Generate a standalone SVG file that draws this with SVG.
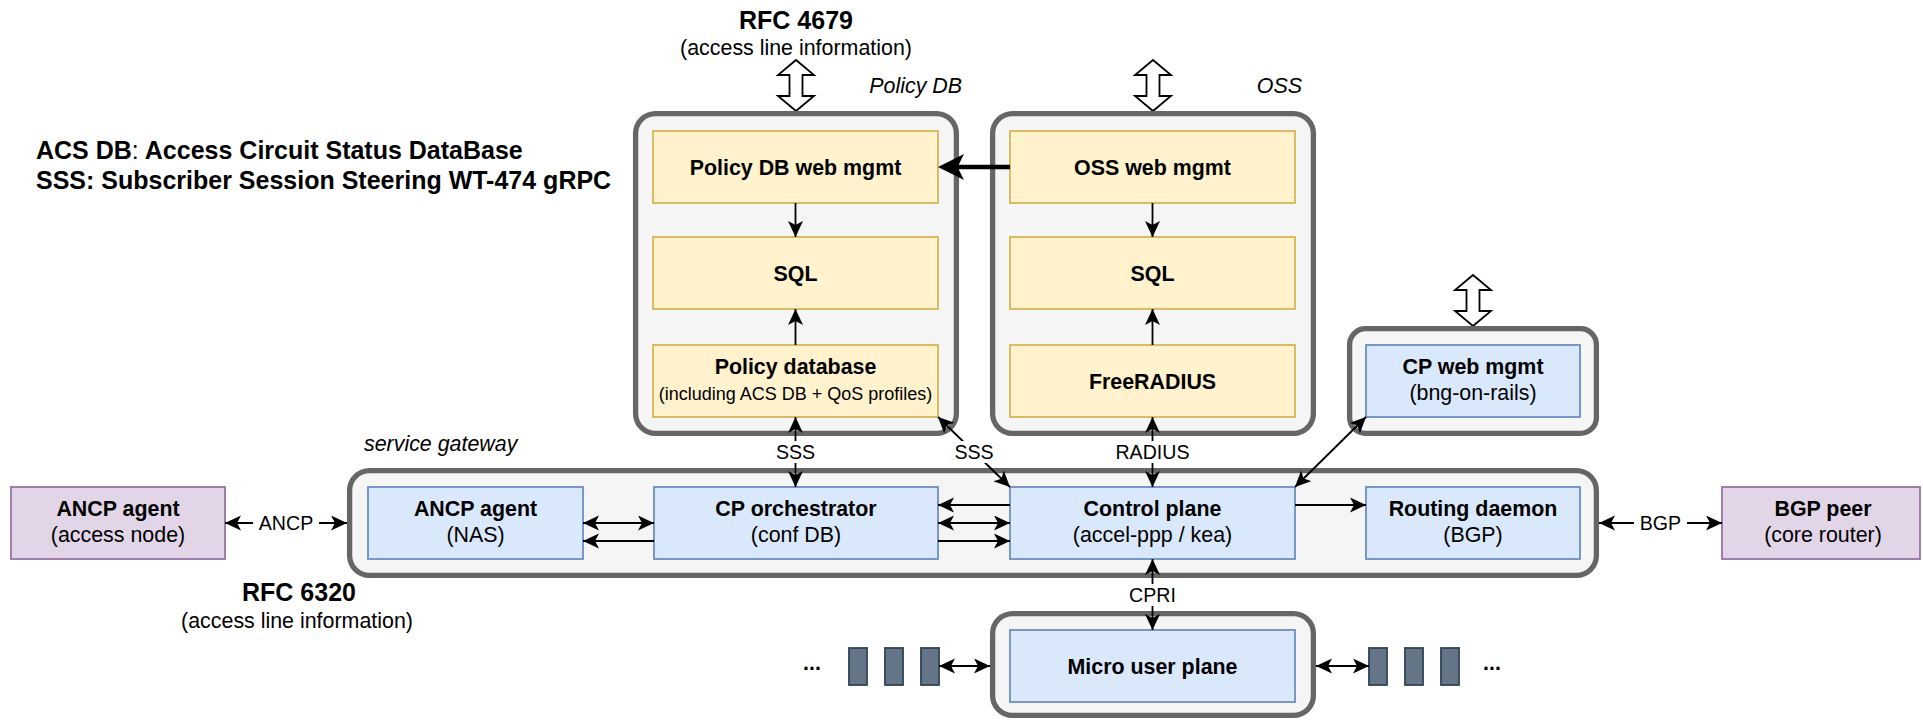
<svg xmlns="http://www.w3.org/2000/svg" width="1923" height="721" viewBox="0 0 1923 721">
<style>
text{font-family:"Liberation Sans",Arial,Helvetica,sans-serif;fill:#000}
.t{font-size:21.4px}
.m{text-anchor:middle}
.en{text-anchor:end}
.st{text-anchor:start}
.sm{font-size:18px}
.b{font-weight:bold}
.i{font-style:italic}
.h{font-size:25px;font-weight:bold}
.lbl{font-size:19.6px;text-anchor:middle}
.cont{fill:#f5f5f5;stroke:#666666;stroke-width:5.3}
.y{fill:#fff2cc;stroke:#d6b656;stroke-width:1.8}
.bl{fill:#dae8fc;stroke:#6c8ebf;stroke-width:1.8}
.p{fill:#e1d5e7;stroke:#9673a6;stroke-width:1.8}
.d{fill:#647687;stroke:#314354;stroke-width:1.8}
.ha{fill:#ffffff;stroke:#000;stroke-width:1.8;stroke-linejoin:miter}
.c{stroke:#000;stroke-width:1.8;fill:none}
.e{marker-end:url(#ar)}
.s{marker-start:url(#ar)}
</style>
<defs>
<marker id="ar" markerUnits="userSpaceOnUse" markerWidth="18" markerHeight="18" refX="16" refY="7.5" orient="auto-start-reverse" viewBox="0 0 18 18">
<path d="M16,7.5 L0,0 L4,7.5 L0,15 Z" fill="#000"/>
</marker>
<marker id="big" markerUnits="userSpaceOnUse" markerWidth="28" markerHeight="28" refX="16" refY="13" orient="auto" viewBox="0 0 28 28">
<path d="M26,13 L0,0 L6.5,13 L0,26 Z" fill="#000"/>
</marker>
</defs>
<rect width="1923" height="721" fill="#ffffff"/>

<g id="legend">
<text class="h" x="36" y="159">ACS DB<tspan font-weight="normal">:</tspan> Access Circuit Status DataBase</text>
<text class="h" x="36" y="189">SSS: Subscriber Session Steering WT-474 gRPC</text>
</g>

<g id="rfc4679">
<text class="h m" x="796" y="29">RFC 4679</text>
<text class="t m" x="796" y="55">(access line information)</text>
</g>
<g id="rfc6320">
<text class="h m" x="299" y="601">RFC 6320</text>
<text class="t m" x="297" y="628">(access line information)</text>
</g>

<g id="hollow-arrows">
<path class="ha" d="M796,60 L814,75 L802.5,75 L802.5,96 L814,96 L796,111 L778,96 L789.5,96 L789.5,75 L778,75 Z"/>
<path class="ha" d="M1153,60 L1171,75 L1159.5,75 L1159.5,96 L1171,96 L1153,111 L1135,96 L1146.5,96 L1146.5,75 L1135,75 Z"/>
<path class="ha" d="M1473,275 L1491,290 L1479.5,290 L1479.5,311 L1491,311 L1473,326 L1455,311 L1466.5,311 L1466.5,290 L1455,290 Z"/>
</g>

<g id="policy-db">
<rect class="cont" x="635.6" y="113.6" width="320.8" height="319.8" rx="20"/>
<text class="t i en" x="962" y="93">Policy DB</text>
</g>
<g id="oss">
<rect class="cont" x="992.6" y="113.6" width="320.8" height="319.8" rx="20"/>
<text class="t i en" x="1302" y="93">OSS</text>
</g>
<g id="cp-web-container">
<rect class="cont" x="1349.6" y="328.6" width="246.8" height="104.8" rx="16"/>
</g>
<g id="service-gateway">
<rect class="cont" x="349.6" y="470.6" width="1246.8" height="104.8" rx="20"/>
<text class="t i st" x="364" y="451">service gateway</text>
</g>
<g id="micro-container">
<rect class="cont" x="992.6" y="613.6" width="320.8" height="101.8" rx="20"/>
</g>

<g id="policy-web"><rect class="y" x="653" y="131" width="285" height="72"/><text class="t b m" x="795.5" y="174.5">Policy DB web mgmt</text></g>
<g id="policy-sql"><rect class="y" x="653" y="237" width="285" height="72"/><text class="t b m" x="795.5" y="280.5">SQL</text></g>
<g id="policy-database"><rect class="y" x="653" y="345" width="285" height="72"/><text class="t b m" x="795.5" y="374">Policy database</text><text class="sm m" x="795.5" y="400">(including ACS DB + QoS profiles)</text></g>

<g id="oss-web"><rect class="y" x="1010" y="131" width="285" height="72"/><text class="t b m" x="1152.5" y="174.5">OSS web mgmt</text></g>
<g id="oss-sql"><rect class="y" x="1010" y="237" width="285" height="72"/><text class="t b m" x="1152.5" y="280.5">SQL</text></g>
<g id="freeradius"><rect class="y" x="1010" y="345" width="285" height="72"/><text class="t b m" x="1152.5" y="388.5">FreeRADIUS</text></g>

<g id="cp-web"><rect class="bl" x="1366" y="345" width="214" height="72"/><text class="t b m" x="1473" y="374">CP web mgmt</text><text class="t m" x="1473" y="400">(bng-on-rails)</text></g>

<g id="ancp-nas"><rect class="bl" x="368" y="487" width="215" height="72"/><text class="t b m" x="475.5" y="516">ANCP agent</text><text class="t m" x="475.5" y="542">(NAS)</text></g>
<g id="cp-orchestrator"><rect class="bl" x="654" y="487" width="284" height="72"/><text class="t b m" x="796" y="516">CP orchestrator</text><text class="t m" x="796" y="542">(conf DB)</text></g>
<g id="control-plane"><rect class="bl" x="1010" y="487" width="285" height="72"/><text class="t b m" x="1152.5" y="516">Control plane</text><text class="t m" x="1152.5" y="542">(accel-ppp / kea)</text></g>
<g id="routing-daemon"><rect class="bl" x="1366" y="487" width="214" height="72"/><text class="t b m" x="1473" y="516">Routing daemon</text><text class="t m" x="1473" y="542">(BGP)</text></g>

<g id="ancp-access"><rect class="p" x="11" y="487" width="214" height="72"/><text class="t b m" x="118" y="516">ANCP agent</text><text class="t m" x="118" y="542">(access node)</text></g>
<g id="bgp-peer"><rect class="p" x="1722" y="487" width="198" height="72"/><text class="t b m" x="1823" y="516">BGP peer</text><text class="t m" x="1823" y="542">(core router)</text></g>

<g id="micro-user-plane"><rect class="bl" x="1010" y="630" width="285" height="72"/><text class="t b m" x="1152.5" y="673.5">Micro user plane</text></g>

<g id="ports-left">
<rect class="d" x="849" y="648" width="18" height="37"/>
<rect class="d" x="885" y="648" width="18" height="37"/>
<rect class="d" x="921" y="648" width="18" height="37"/>
<text class="t b m" x="812" y="670">...</text>
</g>
<g id="ports-right">
<rect class="d" x="1369" y="648" width="18" height="37"/>
<rect class="d" x="1405" y="648" width="18" height="37"/>
<rect class="d" x="1441" y="648" width="18" height="37"/>
<text class="t b m" x="1492" y="670">...</text>
</g>

<g id="connectors">
<line x1="1010" y1="167" x2="948" y2="167" stroke="#000" stroke-width="4.5" marker-end="url(#big)"/>
<line class="c e" x1="795.5" y1="203" x2="795.5" y2="237"/>
<line class="c e" x1="795.5" y1="345" x2="795.5" y2="309"/>
<line class="c e" x1="1152.5" y1="203" x2="1152.5" y2="237"/>
<line class="c e" x1="1152.5" y1="345" x2="1152.5" y2="309"/>
<line class="c e s" x1="795.5" y1="417" x2="795.5" y2="487"/>
<line class="c e s" x1="1010" y1="487" x2="938" y2="417"/>
<line class="c e s" x1="1152.5" y1="417" x2="1152.5" y2="487"/>
<line class="c e s" x1="1152.5" y1="559" x2="1152.5" y2="630"/>
<line class="c e s" x1="1295" y1="487" x2="1366" y2="417"/>
<line class="c e s" x1="583" y1="523" x2="654" y2="523"/>
<line class="c e" x1="654" y1="541" x2="583" y2="541"/>
<line class="c e" x1="1010" y1="505" x2="938" y2="505"/>
<line class="c e s" x1="938" y1="523" x2="1010" y2="523"/>
<line class="c e" x1="938" y1="541" x2="1010" y2="541"/>
<line class="c e" x1="1295" y1="505" x2="1366" y2="505"/>
<line class="c e s" x1="225" y1="523" x2="347" y2="523"/>
<line class="c e s" x1="1599" y1="523" x2="1722" y2="523"/>
<line class="c e s" x1="939" y1="666" x2="990" y2="666"/>
<line class="c e s" x1="1316" y1="666" x2="1369" y2="666"/>
<g id="labels">
<rect x="774" y="441" width="43" height="22" fill="#fff"/>
<text class="lbl" x="795.5" y="459">SSS</text>
<rect x="952" y="441" width="44" height="22" fill="#fff"/>
<text class="lbl" x="974" y="459">SSS</text>
<rect x="1117" y="441" width="71" height="22" fill="#fff"/>
<text class="lbl" x="1152.5" y="459">RADIUS</text>
<rect x="1127" y="584" width="51" height="22" fill="#fff"/>
<text class="lbl" x="1152.5" y="602">CPRI</text>
<rect x="253" y="512" width="66" height="22" fill="#fff"/>
<text class="lbl" x="286" y="530">ANCP</text>
<rect x="1634" y="512" width="53" height="22" fill="#fff"/>
<text class="lbl" x="1660.5" y="530">BGP</text>
</g>
</g>
</svg>
